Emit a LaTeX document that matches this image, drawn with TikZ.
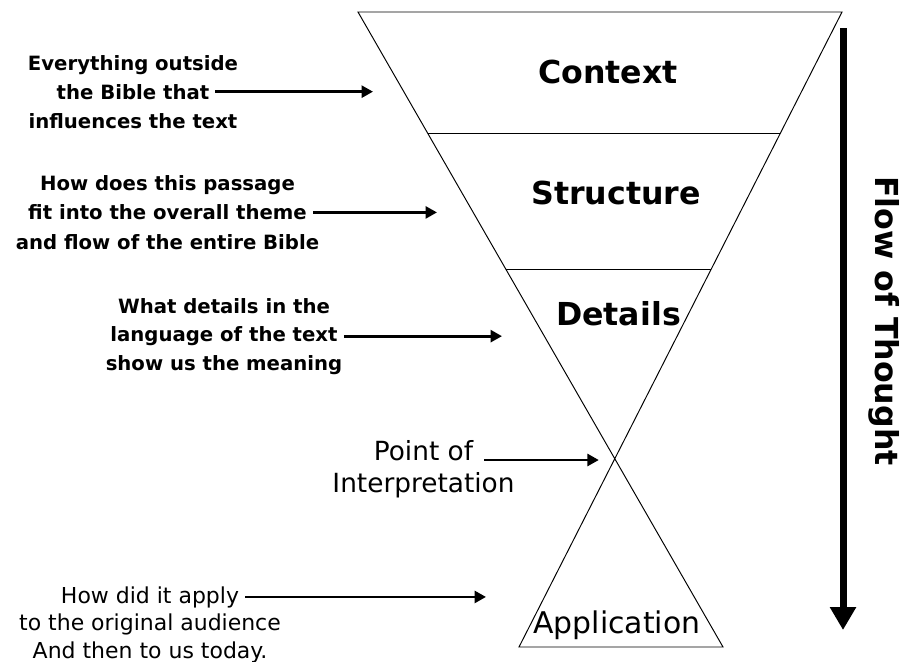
\documentclass[tikz,border=0pt]{standalone}
\usepackage{fontspec}
\setmainfont{DejaVu Sans}
\usetikzlibrary{calc}
\usetikzlibrary{positioning}
\usetikzlibrary{arrows.meta}

\tikzset{
  pointer/.style={-{Triangle[length=2.3mm,width=2.4mm]}, line width=1.6pt},
  stage/.style={font=\fontsize{18}{22}\selectfont\bfseries, anchor=base},
}

\begin{document}
\begin{tikzpicture}
  \useasboundingbox (0,0) rectangle (18.14,-13.22);

  % the hourglass funnel
  \coordinate (tl) at (7.16,-0.24);
  \coordinate (tr) at (16.84,-0.24);
  \coordinate (bl) at (10.38,-12.94);
  \coordinate (br) at (14.46,-12.94);
  \coordinate (xing) at (intersection of tl--br and tr--bl);

  \begin{scope}[line width=0.55pt]
    \draw (tl) -- (br) -- (bl) -- (tr) -- cycle;
    \draw ($(tl)!0.1906!(br)$) -- ($(tr)!0.1906!(bl)$);
    \draw ($(tl)!0.4047!(br)$) -- ($(tr)!0.4047!(bl)$);
  \end{scope}

  \node[stage] (context) at (12.16,-1.66) {Context};
  \node[stage] (structure) at (12.32,-4.08) {Structure};
  \node[stage] (details) at (12.37,-6.50) {Details};
  \node[stage, font=\fontsize{17}{20}\selectfont] (application) at (12.34,-12.66) {Application};

  % notes on the left
  \begin{scope}[every node/.style={font=\fontsize{11.2}{13}\selectfont\bfseries, anchor=base}]
    \foreach \t [count=\i] in {Everything outside, the Bible that, influences the text} {
      \node (ctx\i) at (2.66,{-1.40-0.58*(\i-1)}) {\t};
    }
    \foreach \t [count=\i] in {How does this passage, fit into the overall theme, and flow of the entire Bible} {
      \node (str\i) at (3.35,{-3.81-0.585*(\i-1)}) {\t};
    }
    \foreach \t [count=\i] in {What details in the, language of the text, show us the meaning} {
      \node (det\i) at (4.48,{-6.26-0.57*(\i-1)}) {\t};
    }
  \end{scope}

  \begin{scope}[every node/.style={font=\fontsize{15}{18}\selectfont, anchor=base}]
    \foreach \t [count=\i] in {Point of, Interpretation} {
      \node (pt\i) at (8.47,{-9.20-0.64*(\i-1)}) {\t};
    }
  \end{scope}

  \begin{scope}[every node/.style={font=\fontsize{12.5}{15}\selectfont, anchor=base}]
    \foreach \t [count=\i] in {How did it apply, to the original audience, And then to us today.} {
      \node (app\i) at (3.0,{-12.06-0.55*(\i-1)}) {\t};
    }
  \end{scope}

  \coordinate (ctx-tip) at (7.46,-1.84);
  \coordinate (str-tip) at (8.74,-4.24);
  \coordinate (det-tip) at (10.04,-6.66);
  \coordinate (app-tip) at (9.72,-11.98);

  \draw[pointer] (ctx2.east) -- (ctx2.east -| ctx-tip);
  \draw[pointer] (str2.east) -- (str2.east -| str-tip);
  \draw[pointer] (det2.east) -- (det2.east -| det-tip);
  \draw[pointer] (app1.east) -- (app1.east -| app-tip);
  \draw[pointer, shorten <=0.1cm, shorten >=0.32cm] (pt1.base east) -- (pt1.base east -| xing);

  % flow of thought
  \coordinate (flow-top) at (16.86,-0.56);
  \coordinate (flow-end) at (16.86,-12.60);
  \draw[line width=4pt, -{Triangle[length=4.6mm,width=5mm]}] (flow-top) -- (flow-end);
  \node[font=\fontsize{18}{22}\selectfont\bfseries, rotate=-90] (flow) at (17.68,-6.42) {Flow of Thought};
\end{tikzpicture}
\end{document}
